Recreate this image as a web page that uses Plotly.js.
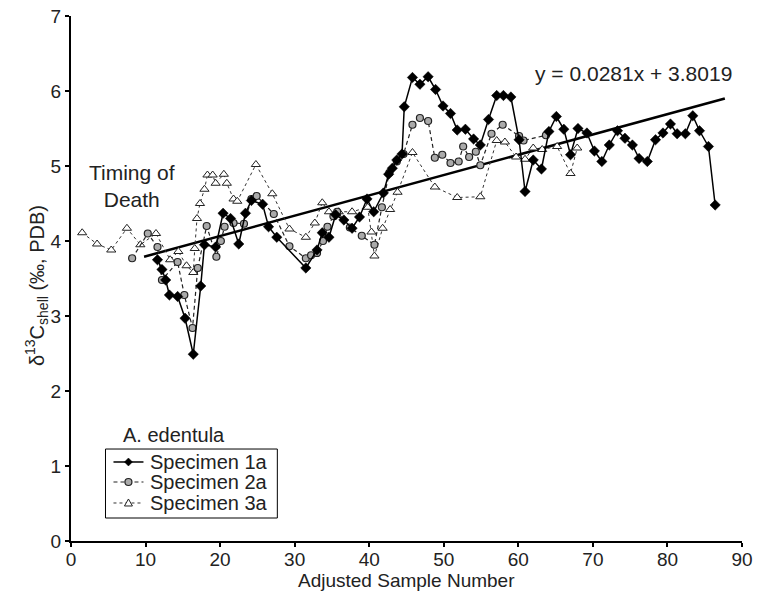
<!DOCTYPE html>
<html>
<head>
<meta charset="utf-8">
<script src="https://cdn.plot.ly/plotly-3.0.1.min.js"></script>
<style>
  html, body { margin: 0; padding: 0; background: #fff; }
  #chart { width: 766px; height: 607px; }
</style>
</head>
<body>
<div id="chart"></div>
<script>
// Specimen 1a
const spec1X = [11.6, 12.2, 12.7, 13.2, 14.3, 15.3, 16.4, 17.4, 17.9, 19.4,
  20.4, 21.4, 22.5, 23.4, 24.2, 25.7, 26.5, 27.6, 31.5, 33.0,
  33.7, 34.6, 35.5, 36.6, 37.7, 38.7, 39.7, 40.6, 41.9, 42.6,
  43.1, 43.7, 44.4, 44.7, 45.8, 46.8, 47.9, 48.9, 49.9, 50.9,
  51.8, 52.9, 54.0, 54.9, 56.0, 57.1, 58.0, 59.0, 60.1, 60.9,
  62.0, 63.1, 64.1, 65.1, 66.1, 67.0, 68.0, 69.2, 70.2, 71.2,
  72.2, 73.3, 74.3, 75.3, 76.2, 77.3, 78.4, 79.4, 80.4, 81.3,
  82.4, 83.4, 84.3, 85.5, 86.4];
const spec1Y = [3.75, 3.62, 3.48, 3.28, 3.26, 2.97, 2.49, 3.40, 3.95, 3.92,
  4.37, 4.30, 3.96, 4.37, 4.54, 4.49, 4.19, 4.05, 3.64, 3.88,
  4.11, 4.05, 4.35, 4.28, 4.17, 4.32, 4.56, 4.39, 4.64, 4.89,
  4.97, 5.08, 5.16, 5.79, 6.18, 6.09, 6.19, 6.02, 5.80, 5.70,
  5.48, 5.49, 5.36, 5.28, 5.62, 5.94, 5.94, 5.92, 5.35, 4.66,
  5.08, 4.96, 5.46, 5.66, 5.49, 5.15, 5.50, 5.44, 5.20, 5.06,
  5.28, 5.47, 5.37, 5.28, 5.10, 5.06, 5.35, 5.44, 5.56, 5.43,
  5.43, 5.67, 5.47, 5.26, 4.48];

// Specimen 2a
const spec2X = [8.2, 10.3, 11.6, 12.2, 14.3, 15.2, 16.3, 17.0, 18.2, 19.5,
  20.1, 20.6, 21.8, 23.2, 24.2, 24.9, 27.2, 29.3, 31.5, 32.2,
  33.0, 33.8, 34.4, 35.2, 35.7, 37.4, 39.0, 40.7, 41.7, 42.7,
  43.7, 44.6, 45.8, 46.8, 47.9, 48.8, 49.8, 50.9, 52.0, 52.6,
  53.4, 54.3, 54.9, 56.4, 57.9, 60.1, 60.7, 63.7];
const spec2Y = [3.77, 4.10, 3.92, 3.48, 3.72, 3.28, 2.84, 3.64, 4.20, 3.79,
  4.00, 4.19, 4.24, 4.23, 4.56, 4.60, 4.36, 3.93, 3.77, 3.81,
  3.84, 4.00, 4.19, 4.33, 4.39, 4.18, 4.07, 3.95, 4.45, 4.91,
  5.06, 5.16, 5.55, 5.64, 5.60, 5.11, 5.15, 5.04, 5.06, 5.26,
  5.12, 5.19, 5.01, 5.43, 5.55, 5.40, 5.34, 5.41];

// Specimen 3a
const spec3X = [1.5, 3.5, 5.4, 7.5, 9.3, 11.4, 13.3, 14.4, 15.5, 16.4,
  16.6, 16.9, 17.3, 17.9, 18.3, 19.0, 19.4, 20.5, 20.9, 21.8,
  22.3, 24.8, 27.0, 29.3, 31.5, 32.7, 33.7, 34.6, 35.9, 37.7,
  39.8, 40.3, 40.7, 41.8, 42.8, 43.8, 45.8, 48.8, 51.8, 54.9,
  57.1, 58.2, 59.7, 60.9, 62.0, 63.2, 65.2, 67.0, 67.9];
const spec3Y = [4.11, 3.96, 3.88, 4.17, 3.95, 4.10, 3.75, 3.86, 3.67, 3.58,
  3.90, 4.30, 4.50, 4.69, 4.88, 4.88, 4.77, 4.89, 4.77, 4.56,
  4.53, 5.02, 4.63, 4.16, 4.05, 4.24, 4.51, 4.39, 4.39, 4.39,
  4.45, 4.12, 3.80, 4.17, 4.42, 4.65, 5.18, 4.72, 4.58, 4.59,
  5.34, 5.32, 5.12, 5.09, 5.24, 5.22, 5.26, 4.90, 5.24];

// Linear trend line as drawn (end points)
const trendX = [9.8, 87.7];
const trendY = [3.79, 5.90];

const seriesNames = ['Specimen 1a', 'Specimen 2a', 'Specimen 3a'];
const xTicks = [0, 10, 20, 30, 40, 50, 60, 70, 80, 90];
const yTicks = [0, 1, 2, 3, 4, 5, 6, 7];

const FONT = 'Arial, "Liberation Sans", sans-serif';
const INK = '#222';

const traces = [
  {
    x: trendX, y: trendY, mode: 'lines', showlegend: false, hoverinfo: 'skip',
    line: {color: '#000', width: 2.5}
  },
  {
    x: spec3X, y: spec3Y, name: seriesNames[2], mode: 'lines+markers',
    line: {color: '#333', width: 1, dash: 'dot'},
    marker: {symbol: 'triangle-up', size: 8, color: '#fff', line: {color: '#222', width: 1}}
  },
  {
    x: spec2X, y: spec2Y, name: seriesNames[1], mode: 'lines+markers',
    line: {color: '#222', width: 1.2, dash: '4px,3px'},
    marker: {symbol: 'circle', size: 7, color: '#aaa', line: {color: '#222', width: 1.2}}
  },
  {
    x: spec1X, y: spec1Y, name: seriesNames[0], mode: 'lines+markers',
    line: {color: '#000', width: 1.5},
    marker: {symbol: 'diamond', size: 8, color: '#000', line: {color: '#000', width: 0.5}}
  }
];

// manual legend (box below the "A. edentula" caption)
const legX0 = 0.0514, legX1 = 0.3075, legY0 = 0.0438, legY1 = 0.1752;
const legRows = [0.1505, 0.1124, 0.0724];
const sampleX0 = 0.0633, sampleX1 = 0.1080, sampleXm = 0.0856, legTextX = 0.1154;

const shapes = [
  {type: 'rect', xref: 'paper', yref: 'paper', x0: legX0, x1: legX1, y0: legY0, y1: legY1,
   line: {color: '#000', width: 1}, fillcolor: '#fff', layer: 'above'},
  {type: 'line', xref: 'paper', yref: 'paper', x0: sampleX0, x1: sampleX1, y0: legRows[0], y1: legRows[0],
   line: {color: '#000', width: 1.5}},
  {type: 'line', xref: 'paper', yref: 'paper', x0: sampleX0, x1: sampleX1, y0: legRows[1], y1: legRows[1],
   line: {color: '#222', width: 1.2, dash: '4px,3px'}},
  {type: 'line', xref: 'paper', yref: 'paper', x0: sampleX0, x1: sampleX1, y0: legRows[2], y1: legRows[2],
   line: {color: '#333', width: 1, dash: 'dot'}},
  {type: 'path', xref: 'paper', yref: 'paper', xsizemode: 'pixel', ysizemode: 'pixel',
   xanchor: sampleXm, yanchor: legRows[0], path: 'M 0,4 L 4,0 L 0,-4 L -4,0 Z',
   fillcolor: '#000', line: {color: '#000', width: 0.5}},
  {type: 'circle', xref: 'paper', yref: 'paper', xsizemode: 'pixel', ysizemode: 'pixel',
   xanchor: sampleXm, yanchor: legRows[1], x0: -3.5, x1: 3.5, y0: -3.5, y1: 3.5,
   fillcolor: '#aaa', line: {color: '#222', width: 1.2}},
  {type: 'path', xref: 'paper', yref: 'paper', xsizemode: 'pixel', ysizemode: 'pixel',
   xanchor: sampleXm, yanchor: legRows[2], path: 'M -4,-3 L 4,-3 L 0,4 Z',
   fillcolor: '#fff', line: {color: '#222', width: 1}}
];

const textFont = (s) => ({family: FONT, size: s, color: INK});

const annotations = [
  {
    xref: 'paper', yref: 'paper', x: -0.051, y: 0.487,
    text: 'δ<sup>13</sup>C<sub>shell</sub> (‰, PDB)', textangle: -90,
    showarrow: false, xanchor: 'center', yanchor: 'middle', font: textFont(20)
  },
  {
    xref: 'paper', yref: 'paper', x: 0.5, y: -0.0743,
    text: 'Adjusted Sample Number', showarrow: false,
    xanchor: 'center', yanchor: 'middle', font: textFont(19)
  },
  {
    xref: 'x', yref: 'y', x: 8.2, y: 4.73,
    text: 'Timing of<br>Death', showarrow: false,
    xanchor: 'center', yanchor: 'middle', align: 'center', font: textFont(21)
  },
  {
    xref: 'x', yref: 'y', x: 75.4, y: 6.24,
    text: 'y = 0.0281x + 3.8019', showarrow: false,
    xanchor: 'center', yanchor: 'middle', font: textFont(21)
  },
  {
    xref: 'paper', yref: 'paper', x: 0.153, y: 0.202,
    text: 'A. edentula', showarrow: false,
    xanchor: 'center', yanchor: 'middle', font: textFont(20)
  }
];
seriesNames.forEach((nm, i) => {
  annotations.push({
    xref: 'paper', yref: 'paper', x: legTextX, y: legRows[i],
    text: nm, showarrow: false, xanchor: 'left', yanchor: 'middle', font: textFont(20)
  });
});

const layout = {
  width: 766, height: 607,
  margin: {l: 70.5, r: 24, t: 16, b: 66},
  paper_bgcolor: '#fff', plot_bgcolor: '#fff',
  font: textFont(19),
  showlegend: false,
  xaxis: {
    range: [0, 90], tickvals: xTicks, ticktext: xTicks.map(String),
    showline: true, linecolor: '#000', linewidth: 2,
    ticks: 'outside', ticklen: 4, tickwidth: 2, tickcolor: '#000',
    showgrid: false, zeroline: false, ticklabelstandoff: -4,
    tickfont: textFont(19)
  },
  yaxis: {
    range: [0, 7], tickvals: yTicks, ticktext: yTicks.map(String),
    showline: true, linecolor: '#000', linewidth: 2,
    ticks: 'outside', ticklen: 4, tickwidth: 2, tickcolor: '#000',
    showgrid: false, zeroline: false,
    tickfont: textFont(19)
  },
  shapes: shapes,
  annotations: annotations
};

Plotly.newPlot('chart', traces, layout, {displayModeBar: false, staticPlot: true});
</script>
</body>
</html>
